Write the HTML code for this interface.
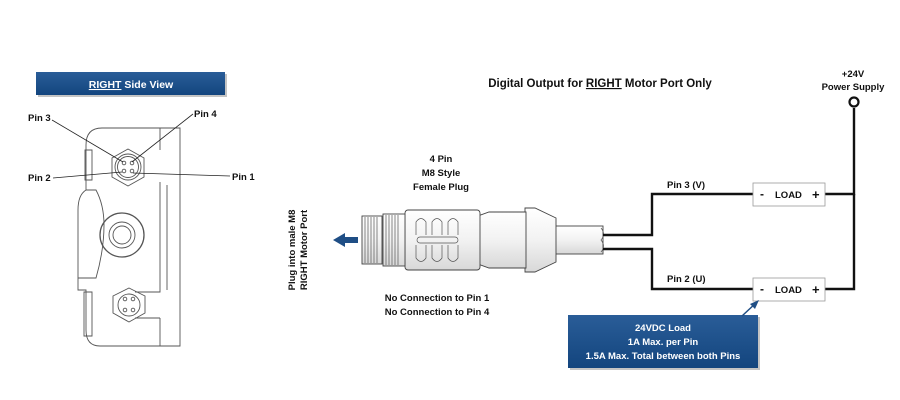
<!DOCTYPE html>
<html><head><meta charset="utf-8"><style>
html,body{margin:0;padding:0;background:#fff;}
svg{display:block;font-family:"Liberation Sans",sans-serif;font-weight:bold;}
</style></head><body>
<svg width="900" height="400" viewBox="0 0 900 400" xmlns="http://www.w3.org/2000/svg">
<defs>
<linearGradient id="bl" x1="0" y1="0" x2="0" y2="1"><stop offset="0" stop-color="#2a5d98"/><stop offset="1" stop-color="#13457e"/></linearGradient>
<linearGradient id="gr" x1="0" y1="0" x2="0" y2="1"><stop offset="0" stop-color="#ffffff"/><stop offset="0.5" stop-color="#f2f2f2"/><stop offset="1" stop-color="#d8d8d8"/></linearGradient>
</defs>
<rect x="38" y="74" width="189" height="23" fill="#555" opacity="0.35"/>
<rect x="36" y="72" width="189" height="23" fill="url(#bl)"/>
<text x="131" y="88" font-size="10.5" fill="#fff" text-anchor="middle"><tspan text-decoration="underline">RIGHT</tspan> Side View</text>

<g fill="none" stroke="#555" stroke-width="0.9">
<path d="M180,128 V346 H100 Q86,346 86,330 V290 H78 V210 Q78,195 86,190 V145 Q86,128 102,128 Z"/>
<path d="M160,128 V150 M160,182 V292 H135 M160,318 V346 M135,318 H160"/>
<path d="M167,185 V290"/>
<path d="M86,190 H96 Q104,205 104,225 Q104,250 96,278 H78"/>
<path d="M85,150 V180 H92 V150 Z"/>
<path d="M84,292 V336 H92 V292 Z"/>
<polygon points="128,149 144,158 144,177 128,186 112,177 112,158"/>
<circle cx="128" cy="167" r="13"/><circle cx="128" cy="167" r="10.5"/>
<circle cx="124" cy="163" r="1.8"/><circle cx="132" cy="163" r="1.8"/><circle cx="124" cy="171" r="1.8"/><circle cx="132" cy="171" r="1.8"/>
<circle cx="122" cy="235" r="22" stroke-width="1.3"/><circle cx="122" cy="235" r="13"/><circle cx="122" cy="235" r="9"/>
<polygon points="129,288 145,296 145,313 129,322 113,313 113,296"/>
<circle cx="129" cy="305" r="11"/>
<circle cx="125" cy="299" r="1.8"/><circle cx="133" cy="299" r="1.8"/><circle cx="125" cy="310" r="1.8"/><circle cx="133" cy="310" r="1.8"/>
</g>
<g stroke="#222" stroke-width="0.8">
<line x1="52" y1="120" x2="123" y2="162"/>
<line x1="193" y1="114" x2="132" y2="162"/>
<line x1="53" y1="178" x2="122" y2="172"/>
<line x1="230" y1="176" x2="133" y2="173"/>
</g>
<g font-size="9.5" fill="#111">
<text x="28" y="121">Pin 3</text>
<text x="194" y="117">Pin 4</text>
<text x="28" y="181">Pin 2</text>
<text x="232" y="180">Pin 1</text>
</g>

<g font-size="9.5" fill="#111" text-anchor="middle">
<text transform="translate(295,250) rotate(-90)">Plug into male M8</text>
<text transform="translate(307,250) rotate(-90)">RIGHT Motor Port</text>
</g>
<polygon points="333,240 345,233 345,237 358,237 358,243 345,243 345,247" fill="#1f4e85"/>

<g stroke="#444" stroke-width="0.9" fill="url(#gr)">
<rect x="555" y="226" width="48" height="28"/>
<path d="M525,208 H535 L556,218 V262 L535,272 H525 Z"/>
<path d="M489,212 H526 V268 H489 L478,264 V216 Z"/>
<rect x="405" y="210" width="75" height="60" rx="3"/>
<rect x="383" y="214" width="22" height="52"/>
<rect x="362" y="216" width="20" height="48"/>
</g>
<g stroke="#555" stroke-width="0.7" fill="none">
<path d="M365,217 V263 M368,217 V263 M371,217 V263 M374,217 V263 M377,217 V263 M386,215 V265 M389,215 V265 M392,215 V265 M395,215 V265 M398,215 V265"/>
<path d="M416,235 V222 Q421,215 426,222 V235 M432,235 V222 Q437,215 442,222 V235 M448,235 V222 Q453,215 458,222 V235"/>
<path d="M416,245 V258 Q421,265 426,258 V245 M432,245 V258 Q437,265 442,258 V245 M448,245 V258 Q453,265 458,258 V245"/>
<rect x="417" y="237" width="41" height="6" rx="3"/>
<path d="M601,228 Q606,234 601,240 Q606,246 601,252"/>
</g>

<g font-size="9.5" fill="#111" text-anchor="middle">
<text x="441" y="162">4 Pin</text>
<text x="441" y="176">M8 Style</text>
<text x="441" y="190">Female Plug</text>
<text x="437" y="301">No Connection to Pin 1</text>
<text x="437" y="315">No Connection to Pin 4</text>
<text x="600" y="87" font-size="11.5">Digital Output for <tspan text-decoration="underline">RIGHT</tspan> Motor Port Only</text>
<text x="853" y="77">+24V</text>
<text x="853" y="90">Power Supply</text>
</g>

<g stroke="#111" stroke-width="2.4" fill="none">
<path d="M603,235 H652 V194 H753"/>
<path d="M603,249 H652 V289 H753"/>
<path d="M825,194 H854 V108"/>
<path d="M825,289 H854 V194"/>
</g>
<circle cx="854" cy="102" r="4.5" fill="#fff" stroke="#111" stroke-width="2.2"/>
<g font-size="9.5" fill="#111">
<text x="667" y="188">Pin 3 (V)</text>
<text x="667" y="282">Pin 2 (U)</text>
</g>
<g stroke="#999" stroke-width="0.8" fill="#fff">
<rect x="753" y="183" width="72" height="23"/>
<rect x="753" y="278" width="72" height="23"/>
</g>
<g font-size="9.5" fill="#111">
<text x="760" y="198" font-size="12">-</text><text x="775" y="198">LOAD</text><text x="812" y="199" font-size="13">+</text>
<text x="760" y="293" font-size="12">-</text><text x="775" y="293">LOAD</text><text x="812" y="294" font-size="13">+</text>
</g>

<rect x="570" y="317" width="190" height="53" fill="#555" opacity="0.35"/>
<rect x="568" y="315" width="190" height="53" fill="url(#bl)"/>
<line x1="742" y1="316" x2="757" y2="302" stroke="#1f4e85" stroke-width="1.5"/>
<polygon points="759,300 750,304 755,309" fill="#1f4e85"/>
<g font-size="9.5" fill="#fff" text-anchor="middle">
<text x="663" y="331">24VDC Load</text>
<text x="663" y="345">1A Max. per Pin</text>
<text x="663" y="359">1.5A Max. Total between both Pins</text>
</g>
</svg>
</body></html>
